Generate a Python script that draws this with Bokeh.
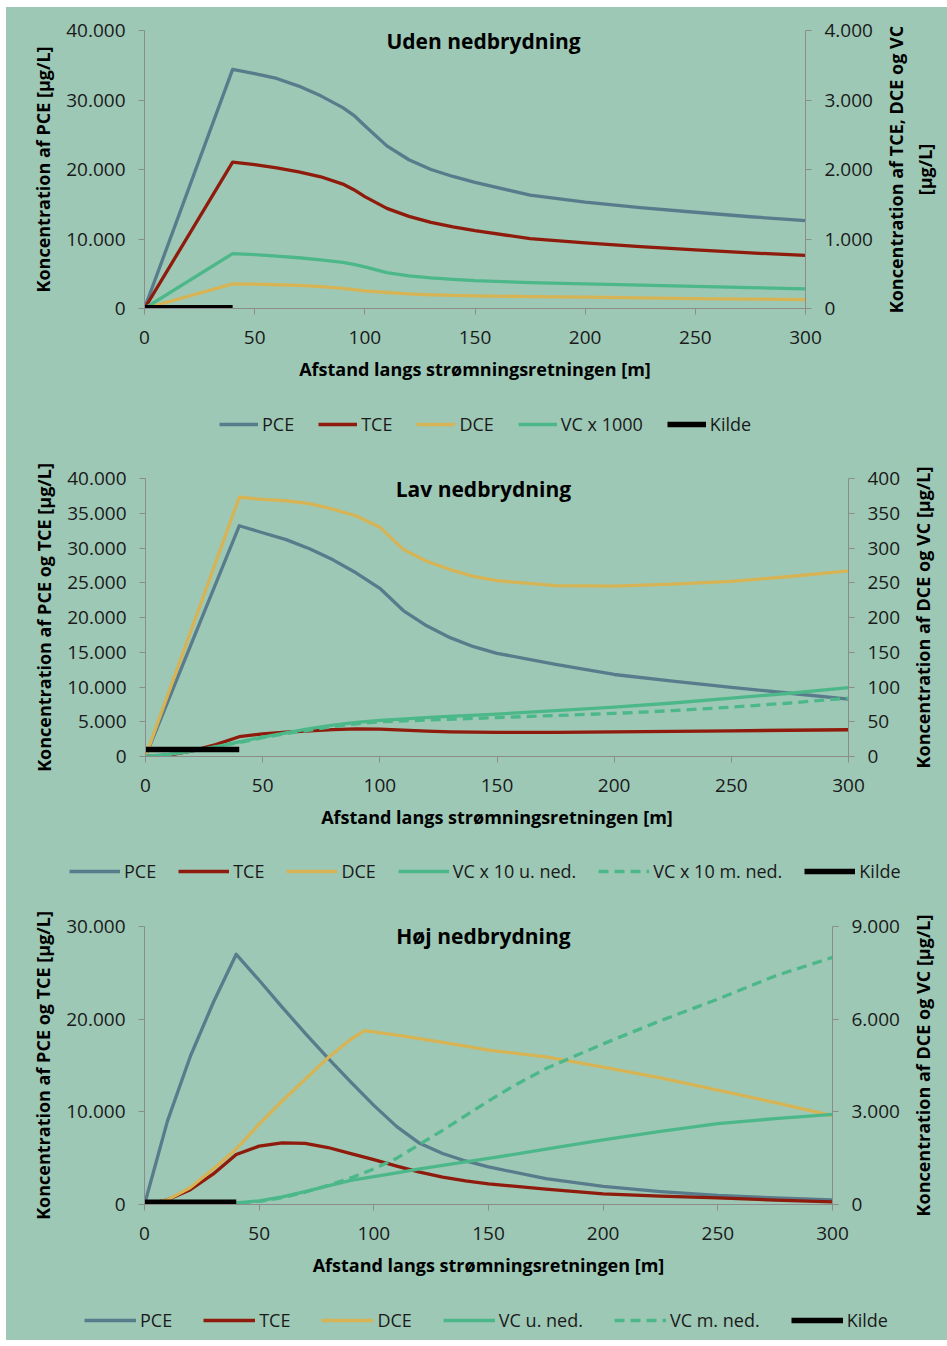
import math
from bokeh.plotting import figure
from bokeh.models import Range1d, LinearAxis, FixedTicker, Legend, LegendItem, Label
from bokeh.layouts import column, row
from bokeh.embed import file_html
from bokeh.resources import INLINE

# ---------------- data ----------------
# Chart 1: Uden nedbrydning
c1_title = "Uden nedbrydning"
c1_pce_x = [0, 40, 50, 60, 70, 80, 90, 95, 100, 110, 120, 130, 140, 150, 175, 200, 225, 250, 275, 300]
c1_pce = [0, 34400, 33800, 33100, 32000, 30600, 28900, 27800, 26300, 23400, 21400, 20000, 19000, 18150, 16300, 15300, 14500, 13850, 13200, 12650]
c1_tce_x = [0, 40, 50, 60, 70, 80, 90, 95, 100, 110, 120, 130, 140, 150, 175, 200, 225, 250, 275, 300]
c1_tce = [0, 2105, 2070, 2025, 1965, 1895, 1790, 1710, 1610, 1440, 1325, 1240, 1175, 1120, 1005, 945, 890, 845, 800, 763]
c1_dce_x = [0, 40, 50, 60, 70, 80, 90, 95, 100, 110, 120, 130, 140, 150, 175, 200, 225, 250, 275, 300]
c1_dce = [0, 355, 350, 342, 332, 315, 290, 272, 255, 230, 210, 197, 188, 182, 172, 163, 152, 143, 135, 129]
c1_vc_x = [0, 40, 50, 60, 70, 80, 90, 95, 100, 110, 120, 130, 140, 150, 175, 200, 225, 250, 275, 300]
c1_vc = [0, 790, 775, 755, 730, 700, 665, 635, 600, 515, 470, 440, 420, 400, 372, 355, 335, 318, 300, 283]
c1_kilde_x = [0, 40]
c1_kilde = [100, 100]
c1_left_ticks = [0, 10000, 20000, 30000, 40000]
c1_left_labels = ["0", "10.000", "20.000", "30.000", "40.000"]
c1_right_ticks = [0, 1000, 2000, 3000, 4000]
c1_right_labels = ["0", "1.000", "2.000", "3.000", "4.000"]
c1_left_title = "Koncentration af PCE [µg/L]"
c1_right_title = "Koncentration af TCE, DCE og VC\n[µg/L]"
c1_legend = ["PCE", "TCE", "DCE", "VC x 1000", "Kilde"]

# Chart 2: Lav nedbrydning
c2_title = "Lav nedbrydning"
c2_pce_x = [0, 40, 50, 60, 70, 80, 90, 100, 110, 120, 130, 140, 150, 175, 200, 225, 250, 275, 300]
c2_pce = [0, 33200, 32200, 31200, 29900, 28300, 26400, 24200, 21000, 18800, 17100, 15800, 14850, 13250, 11800, 10850, 9950, 9100, 8250]
c2_tce_x = [0, 10, 20, 30, 40, 50, 60, 70, 80, 90, 100, 110, 120, 130, 150, 175, 200, 225, 250, 275, 300]
c2_tce = [0, 200, 800, 1700, 2850, 3250, 3500, 3700, 3880, 3980, 3950, 3800, 3650, 3550, 3480, 3480, 3550, 3620, 3700, 3780, 3850]
c2_dce_x = [0, 40, 50, 60, 70, 80, 90, 100, 110, 120, 130, 140, 150, 175, 200, 225, 250, 275, 300]
c2_dce = [0, 373, 370, 368, 364, 356, 346, 330, 298, 281, 269, 259, 253, 246, 245, 248, 252, 259, 267]
c2_vc_x = [0, 10, 20, 30, 40, 50, 60, 70, 80, 90, 100, 125, 150, 175, 200, 225, 250, 275, 300]
c2_vc_u = [0, 3, 8, 14, 21, 28, 34, 40, 45, 49, 52, 57, 61, 66, 71, 77, 84, 91, 99]
c2_vc_m = [0, 3, 8, 14, 20, 27, 33, 38, 43, 47, 50, 53, 56, 59, 62, 66, 71, 77, 84]
c2_kilde_x = [0, 40]
c2_kilde = [1000, 1000]
c2_left_ticks = [0, 5000, 10000, 15000, 20000, 25000, 30000, 35000, 40000]
c2_left_labels = ["0", "5.000", "10.000", "15.000", "20.000", "25.000", "30.000", "35.000", "40.000"]
c2_right_ticks = [0, 50, 100, 150, 200, 250, 300, 350, 400]
c2_right_labels = ["0", "50", "100", "150", "200", "250", "300", "350", "400"]
c2_left_title = "Koncentration af PCE og TCE [µg/L]"
c2_right_title = "Koncentration af DCE og VC [µg/L]"
c2_legend = ["PCE", "TCE", "DCE", "VC x 10 u. ned.", "VC x 10 m. ned.", "Kilde"]

# Chart 3: Høj nedbrydning
c3_title = "Høj nedbrydning"
c3_pce_x = [0, 10, 20, 30, 40, 50, 60, 70, 80, 90, 100, 110, 120, 130, 140, 150, 175, 200, 225, 250, 275, 300]
c3_pce = [0, 9000, 16000, 21800, 27000, 24200, 21300, 18500, 15800, 13200, 10700, 8400, 6600, 5500, 4700, 4050, 2800, 1950, 1400, 980, 700, 500]
c3_tce_x = [0, 10, 20, 30, 40, 50, 60, 70, 80, 90, 100, 110, 120, 130, 140, 150, 175, 200, 225, 250, 275, 300]
c3_tce = [0, 500, 1600, 3300, 5400, 6300, 6650, 6600, 6150, 5500, 4850, 4150, 3500, 2950, 2550, 2230, 1650, 1150, 900, 720, 480, 280]
c3_dce_x = [0, 10, 20, 30, 40, 50, 60, 70, 80, 90, 96, 110, 120, 130, 140, 150, 175, 200, 225, 250, 275, 300]
c3_dce = [0, 150, 550, 1150, 1800, 2600, 3350, 4050, 4750, 5350, 5630, 5480, 5370, 5250, 5130, 5000, 4780, 4450, 4100, 3700, 3300, 2880]
c3_vcu_x = [0, 40, 50, 60, 70, 80, 90, 100, 110, 120, 130, 140, 150, 175, 200, 225, 250, 275, 300]
c3_vc_u = [0, 50, 120, 250, 420, 600, 780, 900, 1020, 1150, 1270, 1380, 1490, 1790, 2090, 2370, 2620, 2780, 2920]
c3_vcm_x = [0, 40, 50, 60, 70, 80, 90, 100, 110, 120, 130, 140, 150, 160, 175, 200, 225, 250, 275, 300]
c3_vc_m = [0, 30, 100, 220, 400, 620, 860, 1150, 1500, 1950, 2400, 2880, 3350, 3800, 4400, 5200, 5950, 6650, 7400, 8000]
c3_kilde_x = [0, 40]
c3_kilde = [250, 250]
c3_left_ticks = [0, 10000, 20000, 30000]
c3_left_labels = ["0", "10.000", "20.000", "30.000"]
c3_right_ticks = [0, 3000, 6000, 9000]
c3_right_labels = ["0", "3.000", "6.000", "9.000"]
c3_left_title = "Koncentration af PCE og TCE [µg/L]"
c3_right_title = "Koncentration af DCE og VC [µg/L]"
c3_legend = ["PCE", "TCE", "DCE", "VC u. ned.", "VC m. ned.", "Kilde"]

x_ticks = [0, 50, 100, 150, 200, 250, 300]
x_title = "Afstand langs strømningsretningen [m]"

# ---------------- style ----------------
BG = "#9DC8B5"
C_PCE = "#587C8C"
C_TCE = "#8E1B0B"
C_DCE = "#D6B456"
C_VC = "#4CB88A"
AX = "#8C8C8C"
FONT = "Open Sans"
TOTAL_W = 941
FRAME_H = 278
LW = 3.3
KW = 5.5


def style_axis(ax, ticks, labels=None):
    ax.ticker = FixedTicker(ticks=ticks)
    if labels is not None:
        ax.major_label_overrides = {t: l for t, l in zip(ticks, labels)}
    ax.axis_line_color = AX
    ax.major_tick_line_color = AX
    ax.minor_tick_line_color = None
    ax.major_tick_out = 6
    ax.major_tick_in = 0
    ax.major_label_text_font = FONT
    ax.major_label_text_font_size = "19px"
    ax.major_label_text_color = "#1a1a1a"
    ax.axis_label_text_font = FONT
    ax.axis_label_text_font_size = "18px"
    ax.axis_label_text_font_style = "bold"
    ax.axis_label_text_color = "#000000"


def main_fig(w, h, bl, br, bt, ymax_l, ymax_r, lt, ll, rt, rl, ltitle, title, title_xy, series):
    p = figure(width=w, height=h, x_range=Range1d(0, 300), y_range=Range1d(0, ymax_l),
               output_backend="svg", toolbar_location=None,
               min_border_left=bl, min_border_right=br, min_border_top=bt,
               min_border_bottom=h - bt - FRAME_H,
               background_fill_color=BG, border_fill_color=BG, outline_line_color=None)
    p.extra_y_ranges = {"r": Range1d(0, ymax_r)}
    p.grid.visible = False
    raxis = LinearAxis(y_range_name="r")
    p.add_layout(raxis, "right")
    style_axis(p.xaxis[0], x_ticks)
    p.xaxis[0].major_label_standoff = 16
    p.xaxis[0].axis_label = x_title
    p.xaxis[0].axis_label_standoff = 10
    style_axis(p.yaxis[0], lt, ll)
    p.yaxis[0].major_label_standoff = 13
    p.yaxis[0].axis_label = ltitle
    p.yaxis[0].axis_label_standoff = 8
    style_axis(raxis, rt, rl)
    raxis.major_label_standoff = 13
    for (xs, ys, color, width, dash, rng) in series:
        kw = {"y_range_name": "r"} if rng == "r" else {}
        p.line(xs, ys, line_color=color, line_width=width, line_dash=dash,
               line_join="round", **kw)
    tx, ty = title_xy
    p.add_layout(Label(x=tx, y=ty, text=title, text_align="center", text_baseline="middle",
                       text_font=FONT, text_font_style="bold", text_font_size="21px",
                       text_color="#000000"))
    return p


def right_label_fig(w, h, bt, bl, text):
    # narrow figure whose (tick-less) left axis carries the right-hand axis title,
    # so that it reads bottom-to-top as in the original
    f = figure(width=w, height=h, x_range=Range1d(0, 1), y_range=Range1d(0, 1),
               output_backend="svg", toolbar_location=None,
               x_axis_location=None, y_axis_location="left",
               min_border_left=bl, min_border_right=0, min_border_top=bt,
               min_border_bottom=h - bt - FRAME_H,
               background_fill_color=BG, border_fill_color=BG, outline_line_color=None)
    f.grid.visible = False
    ax = f.yaxis[0]
    ax.ticker = FixedTicker(ticks=[])
    ax.axis_line_color = None
    ax.major_tick_line_color = None
    ax.minor_tick_line_color = None
    ax.major_tick_out = 0
    ax.major_tick_in = 0
    ax.major_label_text_font_size = "0px"
    ax.major_label_standoff = 0
    ax.axis_label = text
    ax.axis_label_standoff = 0
    ax.axis_label_text_font = FONT
    ax.axis_label_text_font_size = "18px"
    ax.axis_label_text_font_style = "bold"
    ax.axis_label_text_color = "#000000"
    return f


def legend_fig(h, series, labels, glyph_w, spacing, loc):
    f = figure(width=TOTAL_W, height=h, x_range=Range1d(0, TOTAL_W), y_range=Range1d(0, h),
               output_backend="svg", toolbar_location=None,
               x_axis_location=None, y_axis_location=None,
               min_border_left=0, min_border_right=0, min_border_top=0, min_border_bottom=0,
               background_fill_color=BG, border_fill_color=BG, outline_line_color=None)
    f.grid.visible = False
    items = []
    for (xs, ys, color, width, dash, rng), lab in zip(series, labels):
        # single-point line: draws nothing itself, only provides the legend sample
        r = f.line(xs[:1], [-1000], line_color=color, line_width=width, line_dash=dash)
        items.append(LegendItem(label=lab, renderers=[r]))
    leg = Legend(items=items, orientation="horizontal", location=loc,
                 glyph_width=glyph_w, glyph_height=20, label_standoff=4, spacing=spacing,
                 padding=0, margin=0, background_fill_alpha=0, border_line_color=None,
                 label_text_font=FONT, label_text_font_size="18px", label_text_color="#1a1a1a",
                 label_text_baseline="middle")
    f.add_layout(leg, "center")
    return f


# ---------------- chart 1 ----------------
s1 = [
    (c1_pce_x, c1_pce, C_PCE, LW, "solid", "l"),
    (c1_tce_x, c1_tce, C_TCE, LW, "solid", "r"),
    (c1_dce_x, c1_dce, C_DCE, LW, "solid", "r"),
    (c1_vc_x, c1_vc, C_VC, LW, "solid", "r"),
    (c1_kilde_x, c1_kilde, "#000000", KW, "solid", "l"),
]
m1 = main_fig(874, 393, 138, 75, 23, 40000, 4000, c1_left_ticks, c1_left_labels,
              c1_right_ticks, c1_right_labels, c1_left_title, c1_title, (153.9, 38561), s1)
r1 = right_label_fig(67, 393, 23, 54, c1_right_title)
g1 = legend_fig(56, s1, c1_legend, 39, 24, (213, 20))

# ---------------- chart 2 ----------------
s2 = [
    (c2_pce_x, c2_pce, C_PCE, LW, "solid", "l"),
    (c2_tce_x, c2_tce, C_TCE, LW, "solid", "l"),
    (c2_dce_x, c2_dce, C_DCE, LW, "solid", "r"),
    (c2_vc_x, c2_vc_u, C_VC, LW, "solid", "r"),
    (c2_vc_x, c2_vc_m, C_VC, LW, "10 6", "r"),
    (c2_kilde_x, c2_kilde, "#000000", KW, "solid", "l"),
]
m2 = main_fig(899, 392, 139, 57, 22, 40000, 400, c2_left_ticks, c2_left_labels,
              c2_right_ticks, c2_right_labels, c2_left_title, c2_title, (144.2, 38561), s2)
r2 = right_label_fig(42, 392, 22, 29, c2_right_title)
g2 = legend_fig(56, s2, c2_legend, 51, 22, (63, 21))

# ---------------- chart 3 ----------------
s3 = [
    (c3_pce_x, c3_pce, C_PCE, LW, "solid", "l"),
    (c3_tce_x, c3_tce, C_TCE, LW, "solid", "l"),
    (c3_dce_x, c3_dce, C_DCE, LW, "solid", "r"),
    (c3_vcu_x, c3_vc_u, C_VC, LW, "solid", "r"),
    (c3_vcm_x, c3_vc_m, C_VC, LW, "10 6", "r"),
    (c3_kilde_x, c3_kilde, "#000000", KW, "solid", "l"),
]
m3 = main_fig(899, 392, 138, 73, 22, 30000, 9000, c3_left_ticks, c3_left_labels,
              c3_right_ticks, c3_right_labels, c3_left_title, c3_title, (147.8, 28921), s3)
r3 = right_label_fig(42, 392, 22, 29, c3_right_title)
g3 = legend_fig(44, s3, c3_legend, 52, 31, (78, 8))

bgstyle = {"background-color": BG}
layout = column(
    row(m1, r1, spacing=0, styles=bgstyle), g1,
    row(m2, r2, spacing=0, styles=bgstyle), g2,
    row(m3, r3, spacing=0, styles=bgstyle), g3,
    spacing=0, margin=(7, 0, 0, 6), styles=bgstyle,
)
open("out.html", "w").write(file_html(layout, INLINE))
